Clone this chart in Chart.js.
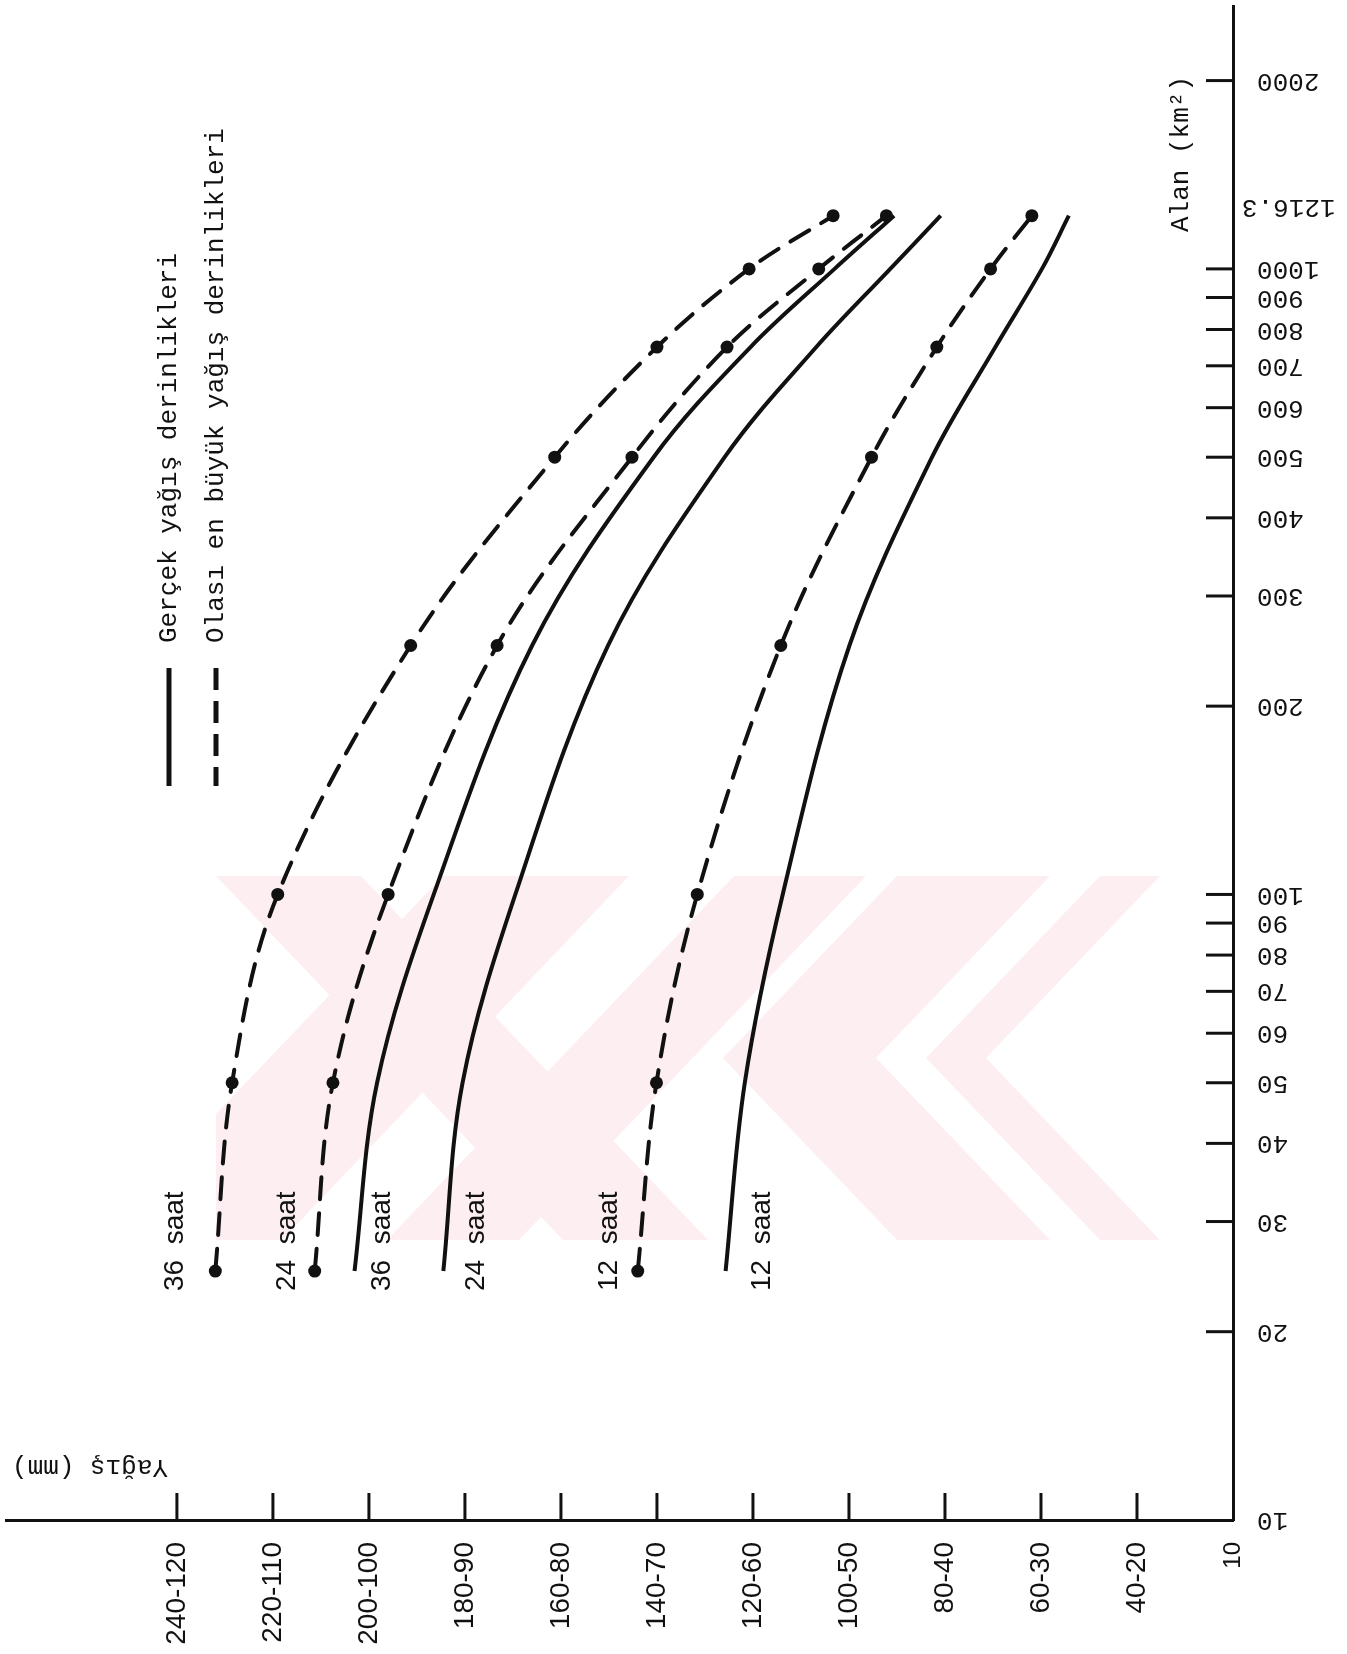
<!DOCTYPE html>
<html>
<head>
<meta charset="utf-8">
<script src="https://cdn.jsdelivr.net/npm/chart.js@4.4.1/dist/chart.umd.min.js"></script>
<style>
  html, body { margin: 0; padding: 0; background: #fff; }
  canvas { display: block; }
</style>
</head>
<body>
<canvas id="dadChart" width="1347" height="1654"></canvas>
<script>
// Alan (km2) at which each curve was read
const areas = [25, 50, 100, 250, 500, 750, 1000, 1216.3];

// Olası en büyük yağış derinlikleri (dashed, with dots)
const probable36 = [232, 228.5, 219, 191.3, 161.3, 140, 120.8, 103.3];
const probable24 = [211.3, 207.5, 196, 173.3, 145.2, 125.4, 106.3, 92.2];
const probable12 = [144, 140.1, 131.6, 114.2, 95.3, 81.7, 70.5, 61.9];

// Gerçek yağış derinlikleri (solid)
const actual36 = [203, 198.3, 186.5, 166, 140.7, 120.5, 103, 90.6];
const actual24 = [184.5, 180.5, 169.5, 150.2, 125.9, 106.8, 91.4, 80.9];
const actual12 = [125.7, 121.7, 113.8, 99.9, 82.7, 69.5, 59.8, 54.2];

// Yağış axis
const rainTicks = [20, 40, 60, 80, 100, 120, 140, 160, 180, 200, 220, 240];
const rainLabels = ['10', '40-20', '60-30', '80-40', '100-50', '120-60', '140-70',
                    '160-80', '180-90', '200-100', '220-110', '240-120'];

// Alan axis
const areaTicks = [20, 30, 40, 50, 60, 70, 80, 90, 100, 200, 300, 400, 500, 600, 700, 800, 900, 1000, 2000];
const areaLabels = [10, 20, 30, 40, 50, 60, 70, 80, 90, 100, 200, 300, 400, 500, 600, 700, 800, 900, 1000, 1216.3, 2000];

const INK = '#111';
const MONO = '"Liberation Mono", "DejaVu Sans Mono", monospace';
const SANS = '"Liberation Sans", Arial, sans-serif';

function series(values) {
    return values.map((v, i) => ({ x: v, y: areas[i] }));
}

function probable(values, label, labelDx) {
    return {
        label: label,
        data: series(values),
        borderColor: INK,
        borderWidth: 4,
        borderDash: [22, 14],
        borderCapStyle: 'round',
        pointRadius: 6.5,
        pointBackgroundColor: INK,
        pointBorderWidth: 0,
        tension: 0.35,
        labelDx: labelDx
    };
}

function actual(values, label, labelDx) {
    return {
        label: label,
        data: series(values),
        borderColor: INK,
        borderWidth: 4,
        pointRadius: 0,
        tension: 0.35,
        labelDx: labelDx
    };
}

function rotText(ctx, text, px, py, angle, align, baseline) {
    ctx.save();
    ctx.translate(px, py);
    ctx.rotate(angle);
    ctx.textAlign = align;
    ctx.textBaseline = baseline;
    ctx.fillText(text, 0, 0);
    ctx.restore();
}

function stroke(ctx, x1, y1, x2, y2) {
    ctx.beginPath();
    ctx.moveTo(x1, y1);
    ctx.lineTo(x2, y2);
    ctx.stroke();
}

function poly(ctx, pts) {
    ctx.beginPath();
    pts.forEach((p, i) => (i ? ctx.lineTo(p[0], p[1]) : ctx.moveTo(p[0], p[1])));
    ctx.closePath();
    ctx.fill();
}

// faint stamp behind the curves
const stampPlugin = {
    id: 'stamp',
    beforeDatasetsDraw(chart) {
        const ctx = chart.ctx;
        ctx.save();
        ctx.beginPath();
        ctx.rect(216, 876, 1017, 364);
        ctx.clip();
        ctx.fillStyle = '#fdeef1';
        poly(ctx, [[216, 876], [361, 876], [708, 1240], [563, 1240]]);
        poly(ctx, [[443, 876], [629, 876], [282, 1240], [96, 1240]]);
        poly(ctx, [[734, 876], [866, 876], [519, 1240], [387, 1240]]);
        poly(ctx, [[897, 876], [1050, 876], [876, 1058], [1050, 1240], [897, 1240], [723, 1058]]);
        poly(ctx, [[1100, 876], [1160, 876], [986, 1058], [1160, 1240], [1100, 1240], [926, 1058]]);
        ctx.restore();
    }
};

// ticks, rotated labels, titles and the legend
const paperPlugin = {
    id: 'paper',
    afterDraw(chart) {
        const ctx = chart.ctx;
        const xs = chart.scales.x;
        const ys = chart.scales.y;
        const area = chart.chartArea;

        ctx.save();
        ctx.strokeStyle = INK;
        ctx.fillStyle = INK;
        ctx.lineWidth = 3;

        // inward tick marks
        areaTicks.forEach(v => {
            const py = ys.getPixelForValue(v);
            stroke(ctx, area.right - 27, py, area.right, py);
        });
        rainTicks.slice(1).forEach(v => {
            const px = xs.getPixelForValue(v);
            stroke(ctx, px, area.bottom - 27, px, area.bottom);
        });

        // Alan labels, printed upside down
        ctx.font = '26px ' + MONO;
        areaLabels.forEach(v => {
            const py = ys.getPixelForValue(v) - (v === 1216.3 ? 9 : 0);
            const px = area.right + (v === 1216.3 ? 9 : 24);
            rotText(ctx, String(v), px, py, Math.PI, 'right', 'middle');
        });

        // axis titles
        rotText(ctx, 'Alan (km²)', 1181, 232, -Math.PI / 2, 'left', 'middle');
        rotText(ctx, 'Yağış (mm)', 90, 1467, Math.PI, 'center', 'middle');

        // curve names
        ctx.font = '28px ' + SANS;
        const baseY = ys.getPixelForValue(25) + 20;
        chart.data.datasets.forEach(ds => {
            const px = xs.getPixelForValue(ds.data[0].x) + ds.labelDx;
            rotText(ctx, ds.label, px, baseY, -Math.PI / 2, 'left', 'middle');
        });

        // legend
        ctx.lineWidth = 5;
        stroke(ctx, 169, 668, 169, 786);
        ctx.setLineDash([22, 11]);
        stroke(ctx, 216, 668, 216, 786);
        ctx.setLineDash([]);
        ctx.font = '26px ' + MONO;
        rotText(ctx, 'Gerçek yağış derinlikleri', 169, 643, -Math.PI / 2, 'left', 'middle');
        rotText(ctx, 'Olası en büyük yağış derinlikleri', 216, 643, -Math.PI / 2, 'left', 'middle');

        ctx.restore();
    }
};

new Chart(document.getElementById('dadChart'), {
    type: 'line',
    data: {
        datasets: [
            probable(probable36, '36  saat', -40),
            probable(probable24, '24  saat', -27),
            probable(probable12, '12  saat', -28),
            actual(actual36, '36  saat', 28),
            actual(actual24, '24  saat', 33),
            actual(actual12, '12  saat', 37)
        ]
    },
    options: {
        responsive: false,
        animation: false,
        indexAxis: 'y',
        layout: { padding: { top: 4, left: 0, right: 0, bottom: 0 } },
        plugins: {
            legend: { display: false },
            tooltip: { enabled: false }
        },
        scales: {
            x: {
                type: 'linear',
                position: 'bottom',
                reverse: true,
                min: 20,
                max: 275.5,
                bounds: 'data',
                grid: { display: false, drawTicks: false },
                border: { display: true, color: INK, width: 3 },
                ticks: {
                    autoSkip: false,
                    minRotation: 90,
                    maxRotation: 90,
                    padding: 22,
                    color: INK,
                    font: c => ({ family: SANS, size: c.tick && c.tick.value === 20 ? 24 : 28 }),
                    callback: v => rainLabels[rainTicks.indexOf(v)]
                },
                afterBuildTicks: s => { s.ticks = rainTicks.map(v => ({ value: v })); },
                afterFit: s => { s.height = 134; }
            },
            y: {
                type: 'logarithmic',
                position: 'right',
                min: 10,
                max: 2627,
                grid: { display: false },
                border: { display: true, color: INK, width: 3 },
                ticks: { display: false },
                afterFit: s => { s.width = 114; }
            }
        }
    },
    plugins: [stampPlugin, paperPlugin]
});
</script>
</body>
</html>
